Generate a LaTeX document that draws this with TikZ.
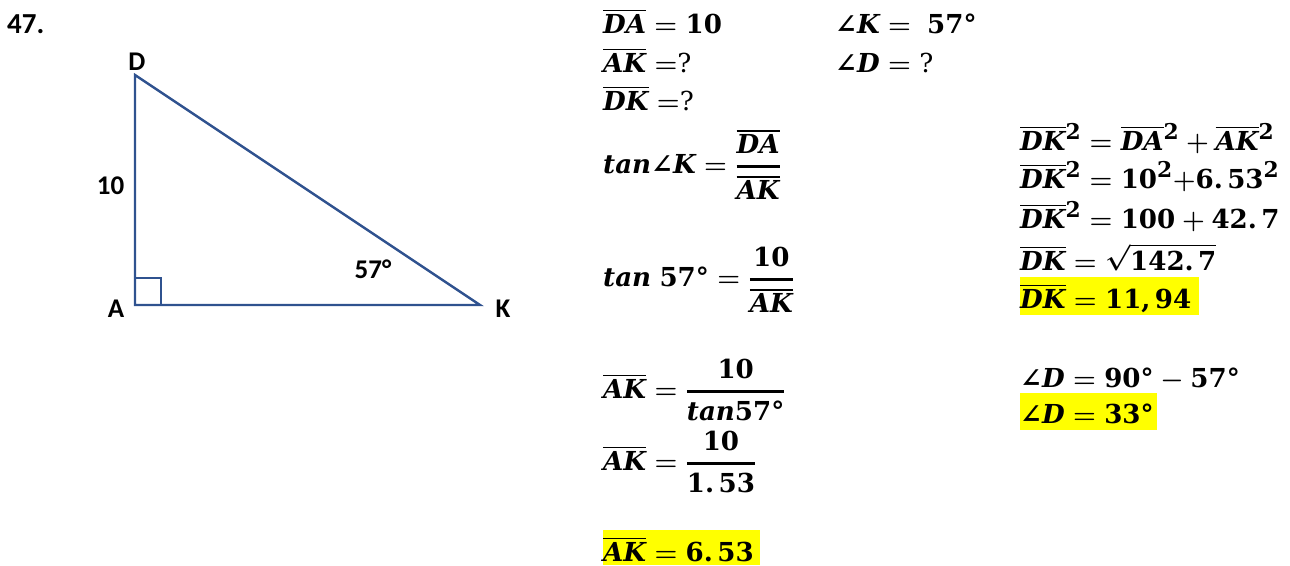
\documentclass[tikz,border=0pt]{standalone}
\usepackage[no-math]{fontspec}
\usepackage{amsmath}
\usepackage{graphicx}
\newfontfamily\calib{Carlito}
\newfontfamily\dvs{DejaVu Serif}
\definecolor{triblue}{RGB}{47,82,143}
\definecolor{hl}{RGB}{255,255,0}
\newcommand{\mymath}[2][1.05]{\scalebox{#1}{\fontsize{24.88}{30}\selectfont\boldmath$\displaystyle #2$}}
\newcommand{\V}[1]{\text{\dvs\bfseries\itshape #1}}
\newcommand{\N}[1]{\text{\dvs\bfseries #1}}
\newcommand{\OL}[1]{\mathord{\vbox{\hrule height 1.6pt\kern 2.6pt\hbox{\dvs\bfseries\itshape #1}}}}
\newcommand{\F}[2]{\genfrac{}{}{2.6pt}{0}{#1}{#2}}
\newcommand{\Q}{\text{\dvs ?}}
\newcommand{\ang}{\text{\dvs\bfseries ∠}}
\tikzset{
  mth/.style={anchor=base west, inner sep=0pt},
  lbl/.style={anchor=base, inner sep=0pt, font=\calib\bfseries\fontsize{27}{30}\selectfont},
  tri/.style={draw=triblue, line width=2.4pt, line join=miter},
  hlbox/.style={fill=hl, draw=none}
}
\begin{document}
\begin{tikzpicture}[x=1pt,y=-1pt]
\useasboundingbox (0,0) rectangle (1290,565);
% triangle
\coordinate (D) at (135,75);
\coordinate (A) at (135,305);
\coordinate (K) at (480,305);
\draw[tri] (D) -- (A) -- (K) -- cycle;
\coordinate (R1) at (135,278);
\coordinate (R2) at (161,278);
\coordinate (R3) at (161,305);
\draw[tri, line width=2pt] (R1) -- (R2) -- (R3);
% labels
\node[lbl, anchor=base west, font=\calib\bfseries\fontsize{29}{32}\selectfont] (n47) at (7,33) {47.};
\node[lbl] (lD) at (137,70) {D};
\node[lbl] (l10) at (110.5,194) {10};
\node[lbl] (l57) at (373,278) {57°};
\node[lbl] (lA) at (116,317) {A};
\node[lbl] (lK) at (503,317) {K};
% highlights
\fill[hlbox] (603,530) rectangle (760,565);
\fill[hlbox] (1020,277) rectangle (1199,315);
\fill[hlbox] (1020,393) rectangle (1157,430);
% left column
\node[mth] (e1) at (603,33) {\mymath{\OL{DA} = \N{10}}};
\node[mth] (e2) at (835,33) {\mymath{\ang\V{K} =\ \N{57°}}};
\node[mth] (e3) at (603,72) {\mymath{\OL{AK} =\mathclose{\Q}}};
\node[mth] (e4) at (835,72) {\mymath{\ang\V{D} = \Q}};
\node[mth] (e5) at (603,110) {\mymath{\OL{DK} =\mathclose{\Q}}};
\node[mth] (e6) at (603,173) {\mymath{\V{tan}\ang\V{K} = \F{\OL{DA}}{\OL{AK}}}};
\node[mth] (e7) at (603,286) {\mymath{\V{tan}\;\N{57°} = \F{\N{10}}{\OL{AK}}}};
\node[mth] (e8) at (603,398) {\mymath{\OL{AK} = \F{\N{10}}{\V{tan}\N{57°}}}};
\node[mth] (e9) at (603,470) {\mymath{\OL{AK} = \F{\N{10}}{\N{1.\,53}}}};
\node[mth] (e10) at (603,561) {\mymath{\OL{AK} = \N{6.\,53}}};
% right column
\node[mth] (r1) at (1020,150) {\mymath{\OL{DK}{}^{\N{2}} = \OL{DA}{}^{\N{2}} + \OL{AK}{}^{\N{2}}}};
\node[mth] (r2) at (1020,188) {\mymath{\OL{DK}{}^{\N{2}} = \N{10}^{\N{2}}{+}\N{6.\,53}^{\N{2}}}};
\node[mth] (r3) at (1020,228) {\mymath{\OL{DK}{}^{\N{2}} = \N{100} + \N{42.\,7}}};
\node[mth] (r4) at (1020,270) {\mymath{\OL{DK} = \sqrt{\N{142.\,7}}}};
\node[mth] (r5) at (1020,308) {\mymath{\OL{DK} = \N{11,\,94}}};
\node[mth] (r6) at (1020,387) {\mymath{\ang\V{D} = \N{90°} - \N{57°}}};
\node[mth] (r7) at (1020,423) {\mymath{\ang\V{D} = \N{33°}}};
\end{tikzpicture}
\end{document}
